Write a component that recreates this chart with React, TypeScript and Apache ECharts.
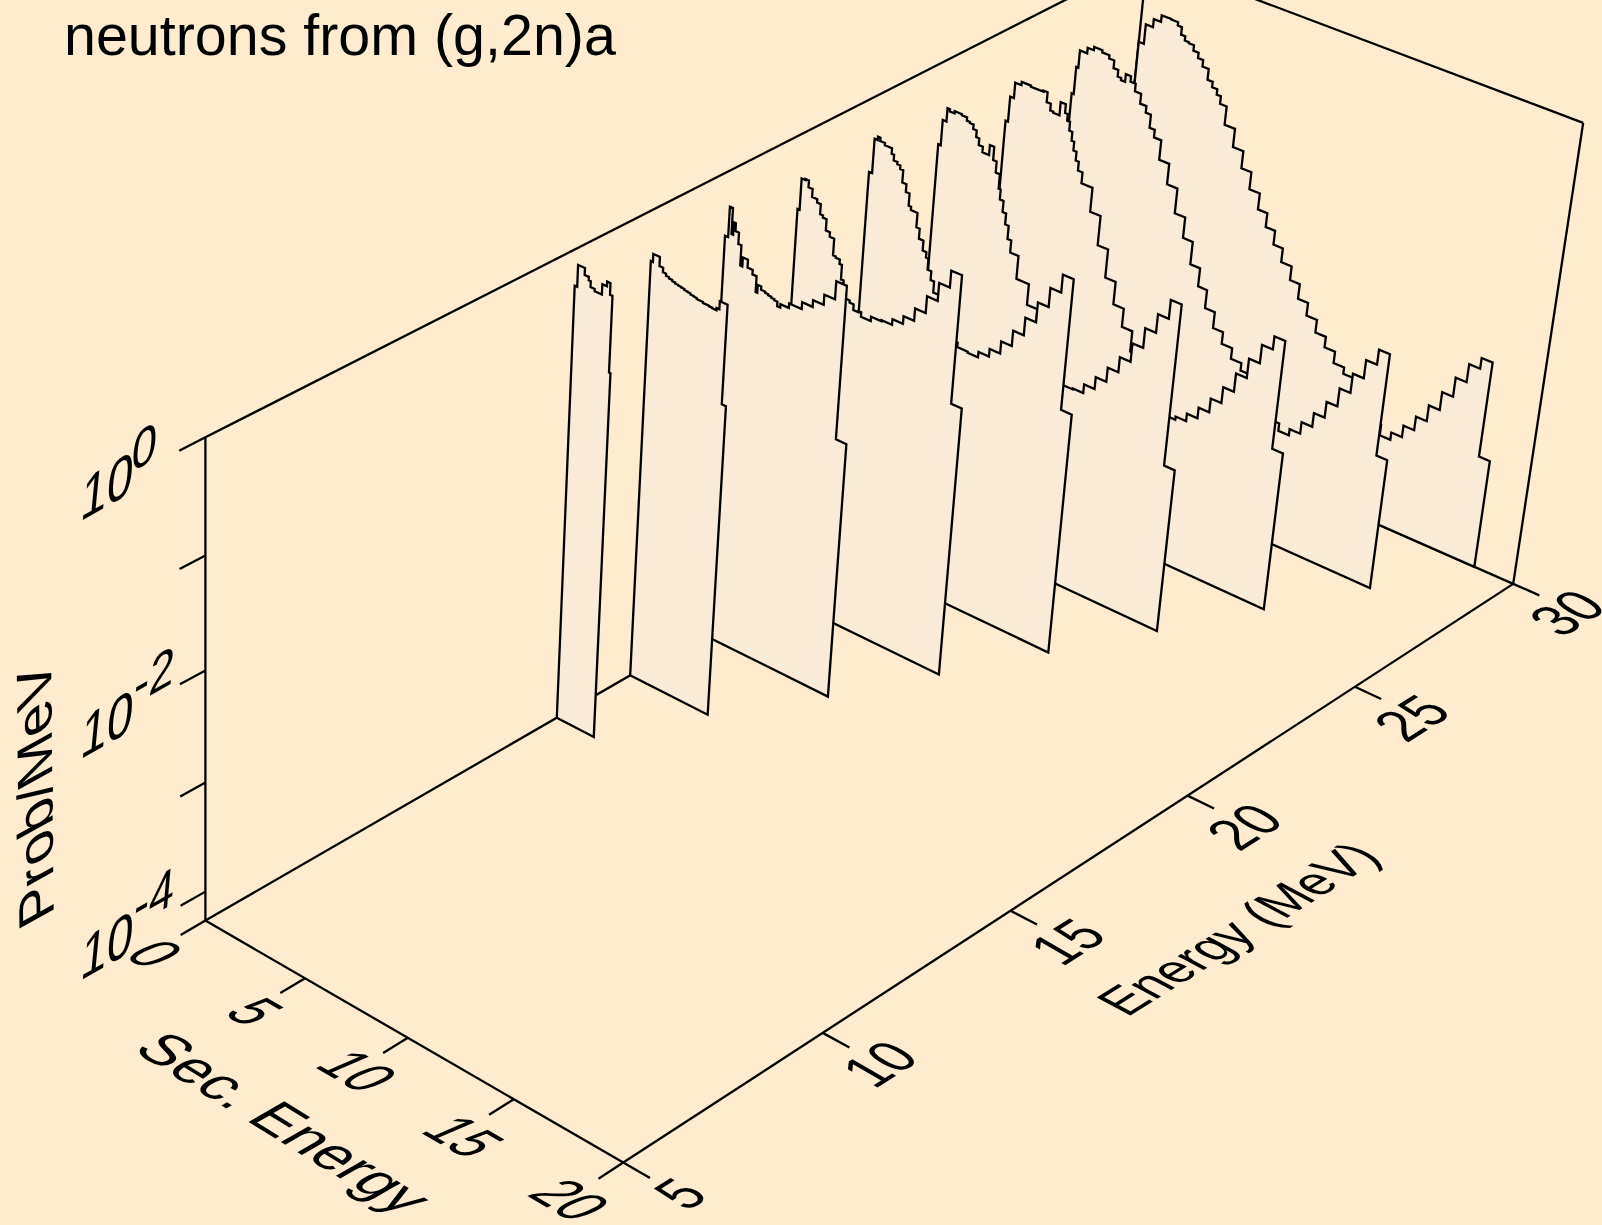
import React, { useEffect, useRef } from "react";
import * as echarts from "echarts";

// Incident-energy slices: [secondary-energy bin left edge (MeV), log10(Prob/MeV)], and last bin's right edge
const slice14 = [[0,-0.32],[0.12,-0.13],[0.45,-0.19],[0.65,-0.22],[0.75,-0.27],[0.95,-0.29],[1.3,-0.2],[1.52,-0.16],[1.68,-0.26],[1.8,-0.93]];
const slice16 = [[0,-0.45],[0.1,-0.38],[0.3,-0.38],[0.42,-0.46],[0.6,-0.5],[0.75,-0.52],[0.9,-0.53],[1.05,-0.54],[1.2,-0.55],[1.35,-0.555],[1.5,-0.56],[1.65,-0.57],[1.8,-0.575],[1.95,-0.585],[2.1,-0.59],[2.25,-0.6],[2.4,-0.6],[2.55,-0.61],[2.7,-0.61],[2.85,-0.615],[3.0,-0.62],[3.2,-0.6],[3.33,-0.53],[3.7,-1.41]];
const slice18 = [[0,-0.57],[0.15,-0.3],[0.3,-0.53],[0.38,-0.42],[0.48,-0.49],[0.65,-0.59],[0.8,-0.77],[0.9,-0.69],[1.15,-0.76],[1.4,-0.8],[1.6,-0.94],[1.68,-0.87],[1.85,-0.9],[2.05,-0.91],[2.2,-0.92],[2.35,-0.93],[2.5,-0.94],[2.65,-0.98],[2.8,-0.95],[3.2,-0.91],[3.8,-0.85],[4.3,-0.79],[4.8,-0.7],[5.3,-0.54],[5.8,-1.91]];
const slice20 = [[0,-0.67],[0.1,-0.39],[0.28,-0.38],[0.45,-0.44],[0.65,-0.51],[0.9,-0.54],[1.08,-0.63],[1.22,-0.65],[1.4,-0.75],[1.6,-0.79],[1.82,-0.94],[1.95,-0.95],[2.15,-0.99],[2.27,-1.12],[2.4,-1.17],[2.5,-1.27],[2.75,-1.29],[2.95,-1.34],[3.2,-1.33],[3.33,-1.37],[3.8,-1.33],[4.3,-1.32],[4.8,-1.27],[5.3,-1.2],[5.8,-1.09],[6.3,-0.94],[6.8,-0.78],[7.3,-0.63],[7.8,-1.78]];
const slice22 = [[0,-0.67],[0.15,-0.36],[0.3,-0.33],[0.42,-0.36],[0.65,-0.38],[1.0,-0.43],[1.12,-0.48],[1.3,-0.5],[1.45,-0.53],[1.6,-0.64],[1.8,-0.71],[1.98,-0.82],[2.1,-0.85],[2.42,-0.98],[2.58,-1.07],[2.8,-1.16],[2.98,-1.21],[3.1,-1.31],[3.28,-1.39],[3.45,-1.49],[3.7,-1.6],[3.95,-1.71],[4.28,-1.84],[4.78,-1.88],[5.28,-1.89],[5.78,-1.84],[6.28,-1.77],[6.78,-1.66],[7.28,-1.52],[7.78,-1.36],[8.28,-1.18],[8.78,-1.01],[9.28,-0.85],[9.78,-2.03]];
const slice24 = [[0,-0.75],[0.12,-0.52],[0.3,-0.4],[0.42,-0.42],[0.65,-0.4],[1.0,-0.41],[1.25,-0.44],[1.4,-0.45],[1.58,-0.49],[1.75,-0.55],[1.9,-0.61],[2.1,-0.66],[2.42,-0.57],[2.63,-0.69],[2.8,-0.79],[3.0,-0.92],[3.1,-1.01],[3.28,-1.11],[3.45,-1.21],[3.62,-1.33],[3.8,-1.44],[4.2,-1.65],[4.8,-1.84],[5.3,-2.03],[5.8,-2.19],[6.28,-2.35],[6.78,-2.42],[7.28,-2.41],[7.78,-2.33],[8.28,-2.22],[8.78,-2.09],[9.28,-1.95],[9.78,-1.78],[10.28,-1.6],[10.78,-1.43],[11.28,-1.26],[11.78,-2.74]];
const slice26 = [[0,-0.86],[0.12,-0.63],[0.3,-0.49],[0.6,-0.46],[1.05,-0.47],[1.4,-0.47],[1.65,-0.46],[1.85,-0.55],[2.05,-0.61],[2.2,-0.62],[2.5,-0.5],[2.75,-0.58],[2.88,-0.64],[3.02,-0.72],[3.17,-0.8],[3.3,-0.88],[3.45,-0.96],[3.6,-1.04],[3.82,-1.14],[4.35,-1.36],[4.85,-1.63],[5.35,-1.89],[5.85,-2.1],[6.35,-2.27],[6.85,-2.46],[7.3,-2.62],[7.8,-2.78],[8.3,-2.86],[8.75,-2.9],[9.25,-2.87],[9.75,-2.8],[10.25,-2.7],[10.75,-2.57],[11.25,-2.42],[11.75,-2.25],[12.25,-2.07],[12.75,-1.9],[13.25,-1.78],[13.75,-2.78]];
const slice28 = [[0,-0.93],[0.1,-0.68],[0.2,-0.52],[0.55,-0.47],[0.85,-0.44],[1.25,-0.46],[1.6,-0.49],[1.85,-0.56],[2.08,-0.62],[2.25,-0.64],[2.45,-0.57],[2.7,-0.62],[2.95,-0.69],[3.25,-0.78],[3.55,-0.84],[3.8,-0.96],[4.05,-1.03],[4.4,-1.21],[4.88,-1.4],[5.38,-1.63],[5.88,-1.82],[6.35,-2.03],[6.82,-2.2],[7.25,-2.37],[7.72,-2.52],[8.2,-2.63],[8.7,-2.73],[9.2,-2.8],[9.74,-2.94],[10.24,-3.04],[10.74,-3.13],[11.24,-3.2],[11.74,-3.14],[12.24,-3.03],[12.74,-2.9],[13.24,-2.75],[13.74,-2.58],[14.24,-2.4],[14.74,-2.23],[15.24,-2.09],[15.74,-3.04]];
const slice30 = [[0,-0.77],[0.25,-0.59],[0.6,-0.515],[0.95,-0.455],[1.42,-0.46],[1.75,-0.49],[1.95,-0.56],[2.15,-0.6],[2.35,-0.61],[2.6,-0.66],[2.85,-0.71],[3.1,-0.77],[3.4,-0.87],[3.65,-0.92],[3.9,-0.97],[4.1,-1.04],[4.42,-1.21],[4.92,-1.38],[5.42,-1.54],[5.9,-1.7],[6.4,-1.85],[6.85,-1.98],[7.3,-2.11],[7.75,-2.24],[8.25,-2.37],[8.72,-2.51],[9.2,-2.63],[9.7,-2.75],[10.2,-2.85],[10.7,-2.96],[11.2,-3.02],[11.7,-3.12],[12.2,-3.22],[12.7,-3.34],[13.2,-3.44],[13.7,-3.37],[14.2,-3.26],[14.7,-3.13],[15.2,-2.98],[15.7,-2.81],[16.2,-2.63],[16.7,-2.46],[17.2,-2.36],[17.7,-3.25]];

const sliceEnergies = [30, 28, 26, 24, 22, 20, 18, 16, 14];
const sliceBins = [slice30, slice28, slice26, slice24, slice22, slice20, slice18, slice16, slice14];
const sliceEnds = [18.2, 16.24, 14.25, 12.28, 10.28, 8.3, 6.3, 3.9, 1.87];

// Axis ranges and ticks
const energyRange = [5, 30];
const secRange = [0, 20];
const logRange = [-4.27, 0];
const energyTicks = [5, 10, 15, 20, 25, 30];
const secTicks = [0, 5, 10, 15, 20];
const logTicks = [0, -1, -2, -3, -4];
const logLabels = [
  { lg: 0, sup: "0" },
  { lg: -2, sup: "-2" },
  { lg: -4, sup: "-4" },
];
const titleText = "neutrons from (g,2n)a";

const BG = "#FFEBCD";
const FILL = "#FAEBD7";
const FONT = "Liberation Sans";
const BASE = 50;

// Perspective camera: origin, three vanishing points and depth gains
const CAM = {
  o: [205.4, 920.6],
  vE: [7243, -3142],
  vS: [-6334, -2866],
  vZ: [205.4, 9200],
  a: 0.14599,
  b: -0.06006,
  c: -0.05515,
};

function project(E: number, Es: number, lg: number): [number, number] {
  const t = (CAM.a * (E - energyRange[0])) / (energyRange[1] - energyRange[0]);
  const s = (CAM.b * (Es - secRange[0])) / (secRange[1] - secRange[0]);
  const r = (CAM.c * (lg - logRange[0])) / (logRange[1] - logRange[0]);
  const d = 1 + t + s + r;
  return [
    (CAM.o[0] + t * CAM.vE[0] + s * CAM.vS[0] + r * CAM.vZ[0]) / d,
    (CAM.o[1] + t * CAM.vE[1] + s * CAM.vS[1] + r * CAM.vZ[1]) / d,
  ];
}

// Text mapped by an arbitrary 2x2 matrix (local x -> u, local y -> v), via rotate * scale * rotate
function skewText(text: string, p: number[], u: number[], v: number[]) {
  const [a, b, c, d] = [u[0] / BASE, v[0] / BASE, u[1] / BASE, v[1] / BASE];
  const E = (a + d) / 2, F = (a - d) / 2, G = (c + b) / 2, H = (c - b) / 2;
  const Q = Math.hypot(E, H), R = Math.hypot(F, G);
  const a1 = Math.atan2(G, F), a2 = Math.atan2(H, E);
  const theta = (a2 - a1) / 2, phi = (a2 + a1) / 2;
  return {
    type: "group",
    x: p[0],
    y: p[1],
    rotation: -phi,
    children: [
      {
        type: "group",
        scaleX: Q + R,
        scaleY: Q - R,
        children: [
          {
            type: "text",
            rotation: -theta,
            style: {
              text,
              x: 0,
              y: 0,
              fill: "#000",
              fontFamily: FONT,
              fontSize: BASE,
              textAlign: "center",
              textVerticalAlign: "middle",
            },
          },
        ],
      },
    ],
  };
}

const LINE = { stroke: "#000", lineWidth: 2.3, fill: "none" };

function seg(api: any, A: number[], B: number[]) {
  const p = api.coord(project(A[0], A[1], A[2]));
  const q = api.coord(project(B[0], B[1], B[2]));
  return { type: "line", shape: { x1: p[0], y1: p[1], x2: q[0], y2: q[1] }, style: LINE };
}

function buildOption() {
  const [E0, E1] = energyRange;
  const [S0, S1] = secRange;
  const [Z0, Z1] = logRange;
  const frameSegments = [
    [E0, S0, Z0, E0, S0, Z1],
    [E0, S0, Z1, E1, S0, Z1],
    [E1, S0, Z1, E1, S1, Z1],
    [E1, S1, Z1, E1, S1, Z0],
    [E1, S0, Z1, E1, S0, Z0],
    [E0, S0, Z0, E1, S0, Z0],
    [E1, S0, Z0, E1, S1, Z0],
    [E0, S0, Z0, E0, S1, Z0],
    [E0, S1, Z0, E1, S1, Z0],
  ];
  const tickSegments = [
    ...energyTicks.map((e) => [e, S1, Z0, e, S1 + 1.2, Z0]),
    ...secTicks.map((s) => [E0, s, Z0, E0 - 0.6, s, Z0]),
    ...logTicks.map((l) => [E0, S0, l, E0 - 0.6, S0, l]),
  ];
  const segSeries = (name: string, rows: number[][]) => ({
    type: "custom",
    name,
    coordinateSystem: "cartesian2d",
    silent: true,
    clip: false,
    encode: { x: 0, y: 1 },
    data: rows,
    renderItem: (_: any, api: any) => {
      const i = _.dataIndex;
      const r = rows[i];
      return seg(api, r.slice(0, 3), r.slice(3, 6));
    },
  });

  const sliceSeries = sliceEnergies.map((E, k) => ({
    type: "custom",
    name: "E=" + E + " MeV",
    coordinateSystem: "cartesian2d",
    silent: true,
    clip: false,
    encode: { x: 0, y: 1 },
    data: sliceBins[k],
    renderItem: (params: any, api: any) => {
      if (params.dataIndex !== 0) return null;
      const bins = sliceBins[k];
      const end = sliceEnds[k];
      const pts: number[][] = [project(E, bins[0][0], Z0)];
      bins.forEach((b, i) => {
        const right = i + 1 < bins.length ? bins[i + 1][0] : end;
        pts.push(project(E, b[0], b[1]));
        pts.push(project(E, right, b[1]));
      });
      pts.push(project(E, end, Z0));
      return {
        type: "polygon",
        shape: { points: pts.map((q) => api.coord(q)) },
        style: { fill: FILL, stroke: "#000", lineWidth: 2.3, lineJoin: "miter" },
      };
    },
  }));

  const labelSeries = {
    type: "custom",
    name: "labels",
    coordinateSystem: "cartesian2d",
    silent: true,
    clip: false,
    encode: { x: 0, y: 1 },
    data: [[0, 0]],
    renderItem: (_: any, api: any) => {
      const children: any[] = [];
      const put = (t: string, p: number[], dx: number, dy: number, u: number[], v: number[]) =>
        children.push(skewText(t, api.coord([p[0] + dx, p[1] + dy]), u, v));
      energyTicks.forEach((e) =>
        put(String(e), project(e, S1, Z0), e === 30 ? 54 : 57, e === 30 ? 29 : 31, [43, -27], [53, 30.5])
      );
      secTicks.forEach((s) =>
        put(String(s), project(E0, s, Z0), s === 20 ? -53 : -50, 33 + (s >= 15 ? 4 : 0), [43, 25], [-60, 26])
      );
      logLabels.forEach(({ lg, sup }) => {
        const p = project(E0, S0, lg);
        put("10", p, -98, lg === 0 ? 48 : 53, [47, -26.5], [-6, 62]);
        put(sup, p, sup.length > 1 ? -51 : -61, sup.length > 1 ? 4 : 9, [45, -25.5], [-5, 56]);
      });
      put("Sec. Energy", [284, 1123], 0, 0, [49.5, 30.5], [-52, 30]);
      put("Energy (MeV)", [1238, 929], 0, 0, [41.5, -25.9], [49, 26.2]);
      put("Prob/MeV", [35, 795], 0, 0, [-0.6, -58], [49.8, -27.6]);
      return { type: "group", children };
    },
  };

  return {
    animation: false,
    backgroundColor: BG,
    title: {
      text: titleText,
      left: 59,
      top: 1,
      textStyle: { fontFamily: FONT, fontSize: 57.4, fontWeight: "normal", color: "#000" },
    },
    grid: { left: 0, right: 0, top: 0, bottom: 0 },
    xAxis: { type: "value", min: 0, max: 1602, show: false },
    yAxis: { type: "value", min: 0, max: 1225, inverse: true, show: false },
    series: [segSeries("frame", frameSegments), ...sliceSeries, segSeries("ticks", tickSegments), labelSeries],
  };
}

export default function App() {
  const ref = useRef<HTMLDivElement>(null);
  useEffect(() => {
    document.body.style.margin = "0";
    document.body.style.overflow = "hidden";
    const chart = echarts.init(ref.current!, undefined, { renderer: "svg" });
    chart.setOption(buildOption() as any);
    return () => chart.dispose();
  }, []);
  return <div ref={ref} style={{ position: "absolute", left: 0, top: 0, width: 1602, height: 1225 }} />;
}
